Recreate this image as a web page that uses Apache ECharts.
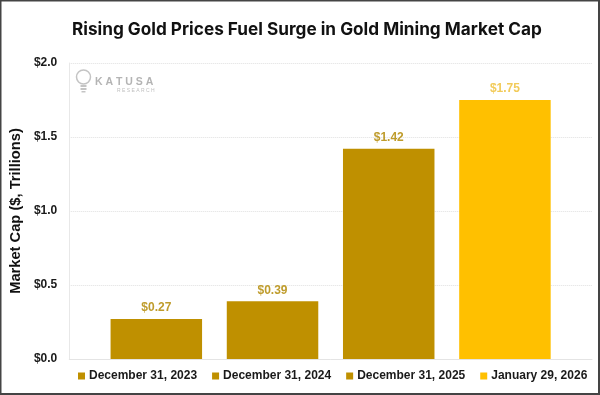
<!DOCTYPE html>
<html><head><meta charset="utf-8">
<style>html,body{margin:0;padding:0;background:#fff}#c{width:600px;height:395px}</style>
<script src="https://cdn.jsdelivr.net/npm/echarts@6/dist/echarts.min.js"></script>
</head><body><div id="c"></div>
<script>
const titleText = 'Rising Gold Prices Fuel Surge in Gold Mining Market Cap';
const yAxisName = 'Market Cap ($, Trillions)';
const seriesNames = ['December 31, 2023','December 31, 2024','December 31, 2025','January 29, 2026'];
const seriesValues = [0.27,0.39,1.42,1.75];
const seriesColors = ['#BF9000','#BF9000','#BF9000','#FFC000'];
const labelColors = ['#BF9C2C','#BF9C2C','#BF9C2C','#F2CB5A'];
const font = '"Liberation Sans", Arial, sans-serif';
const chart = echarts.init(document.getElementById('c'), null, {renderer:'canvas'});
chart.setOption({
  animation:false,
  backgroundColor:'#fff',
  title:{text:titleText,left:67,top:16,textStyle:{fontFamily:'Inter',fontWeight:700,fontSize:17.2,color:'#111'}},
  grid:{left:67,right:8,top:63,bottom:36},
  legend:{bottom:8,left:73,itemWidth:7,itemHeight:7,itemGap:15,icon:'rect',
    textStyle:{fontFamily:font,fontWeight:700,fontSize:12,color:'#1a1a1a',padding:[0,0,0,-1]},
    data:seriesNames},
  xAxis:{type:'category',data:[''],axisLine:{lineStyle:{color:'#e4e4e4'}},axisTick:{show:false},axisLabel:{show:false}},
  yAxis:{type:'value',min:0,max:2,interval:0.5,name:yAxisName,nameLocation:'middle',nameGap:41,
    nameTextStyle:{fontFamily:font,fontWeight:700,fontSize:14.7,color:'#111'},
    axisLine:{show:true,lineStyle:{color:'#e8e8e8'}},axisTick:{show:false},
    splitLine:{lineStyle:{color:'#e0e0e0',type:'dotted'}},
    axisLabel:{formatter:v=>'$'+v.toFixed(1),fontFamily:font,fontWeight:700,fontSize:12,color:'#1a1a1a',margin:12}},
  series:seriesNames.map((n,i)=>({type:'bar',name:n,data:[seriesValues[i]],barWidth:91.5,barGap:'27%',
    itemStyle:{color:seriesColors[i]},
    label:{show:true,position:'top',distance:5,formatter:p=>'$'+p.value.toFixed(2),fontFamily:font,fontWeight:700,fontSize:12,color:labelColors[i]}})),
  graphic:[
    {type:'rect',silent:true,z:100,shape:{x:0,y:0,width:600,height:1.5},style:{fill:'#444'}},
    {type:'rect',silent:true,z:100,shape:{x:0,y:0,width:1.5,height:395},style:{fill:'#444'}},
    {type:'rect',silent:true,z:100,shape:{x:0,y:393,width:600,height:2},style:{fill:'#444'}},
    {type:'rect',silent:true,z:100,shape:{x:598,y:0,width:2,height:395},style:{fill:'#444'}},
    {type:'circle',silent:true,z:50,shape:{cx:83.5,cy:77,r:7},style:{fill:'none',stroke:'#c4c4c4',lineWidth:1.5}},
    {type:'rect',silent:true,z:50,shape:{x:80.5,y:85,width:6,height:2},style:{fill:'#c4c4c4'}},
    {type:'rect',silent:true,z:50,shape:{x:80.5,y:88,width:6,height:2},style:{fill:'#c4c4c4'}},
    {type:'rect',silent:true,z:50,shape:{x:81.5,y:91,width:4,height:1.5},style:{fill:'#c4c4c4'}},
    {type:'text',silent:true,z:50,left:95,top:77,style:{text:'K A T U S A',fontFamily:font,fontWeight:700,fontSize:10.5,fill:'#b4b4b4'}},
    {type:'text',silent:true,z:50,left:117,top:88,style:{text:'R E S E A R C H',fontFamily:font,fontSize:5,fill:'#c0c0c0'}}
  ]
});
</script></body></html>
